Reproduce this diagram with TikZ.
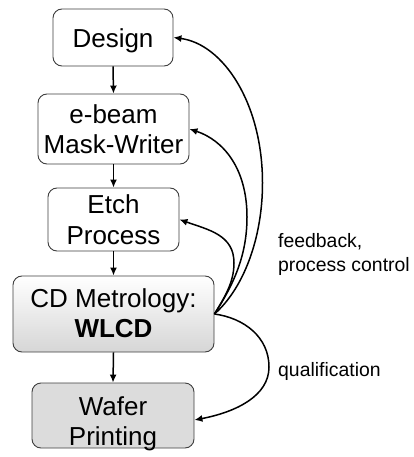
\documentclass[tikz,border=0pt]{standalone}
\usepackage{fontspec}
\setmainfont{Liberation Sans}
\usetikzlibrary{arrows.meta}
\definecolor{boxborder}{HTML}{3F3F3F}
\definecolor{waferfill}{HTML}{DCDCDC}
\definecolor{cdbottom}{HTML}{D6D6D6}
\begin{document}
\begin{tikzpicture}[x=1pt,y=1pt,
  box/.style={draw=boxborder, line width=0.9pt, rounded corners=9pt, inner sep=0pt},
  boxtext/.style={anchor=base, inner sep=0pt, font=\fontsize{26}{30.6}\selectfont},
  lbl/.style={anchor=base west, inner sep=0pt, font=\fontsize{19.4}{24}\selectfont},
  flow/.style={line width=1.5pt, -{Latex[length=8pt,width=7pt]}},
]
\useasboundingbox (0,0) rectangle (414,-457);
% boxes
\node[box, fill=white, minimum width=120pt, minimum height=57pt] (design) at (113,-37.5) {};
\node[box, fill=white, minimum width=151pt, minimum height=70pt] (ebeam) at (113.5,-129) {};
\node[box, fill=white, minimum width=131pt, minimum height=63pt] (etch) at (113.5,-219.5) {};
\node[box, top color=white, bottom color=cdbottom, minimum width=201pt, minimum height=76pt] (cd) at (113.5,-314) {};
\node[box, fill=waferfill, minimum width=162pt, minimum height=65pt] (wafer) at (113,-415.5) {};
% texts
\node[boxtext] (designtxt) at (113,-48) {Design};
\node[boxtext] (ebeamtxt) at (113.5,-123.3) {\begin{tabular}[t]{@{}c@{}}e-beam\\Mask-Writer\end{tabular}};
\node[boxtext] (etchtxt) at (113.5,-213.5) {\begin{tabular}[t]{@{}c@{}}Etch\\Process\end{tabular}};
\node[boxtext] (cdtxt) at (113.5,-307) {\begin{tabular}[t]{@{}c@{}}CD Metrology:\\\textbf{WLCD}\end{tabular}};
\node[boxtext] (wafertxt) at (113,-415) {\begin{tabular}[t]{@{}c@{}}Wafer\\Printing\end{tabular}};
% labels
\node[lbl] (fb) at (278,-247) {\begin{tabular}[t]{@{}l@{}}feedback,\\process control\end{tabular}};
\node[lbl] (qual) at (278,-376) {qualification};
% vertical flow
\draw[flow] (design.south) -- (ebeam.north);
\draw[flow] (ebeam.south) -- (etch.north);
\draw[flow] (etch.south) -- (cd.north);
\draw[flow] (cd.south) -- (wafer.north);
% feedback curves
\draw[flow] (cd.east) .. controls (243.7,-288.3) and (262.5,-238) .. (262.5,-183)
  .. controls (262.5,-103) and (223,-44) .. (design.east);
\draw[flow] (cd.east) .. controls (234,-284) and (247,-255) .. (247,-217)
  .. controls (247,-168) and (223,-140) .. (ebeam.east);
\draw[flow] (cd.east) .. controls (224,-298) and (234,-283) .. (234,-263)
  .. controls (234,-235) and (209,-230) .. (etch.east);
% qualification
\coordinate (wafertip) at ([yshift=-4.5pt]wafer.east);
\draw[flow] (cd.east) .. controls (244,-318) and (269,-337) .. (269,-367)
  .. controls (269,-396) and (236,-412) .. (wafertip);
\end{tikzpicture}
\end{document}
